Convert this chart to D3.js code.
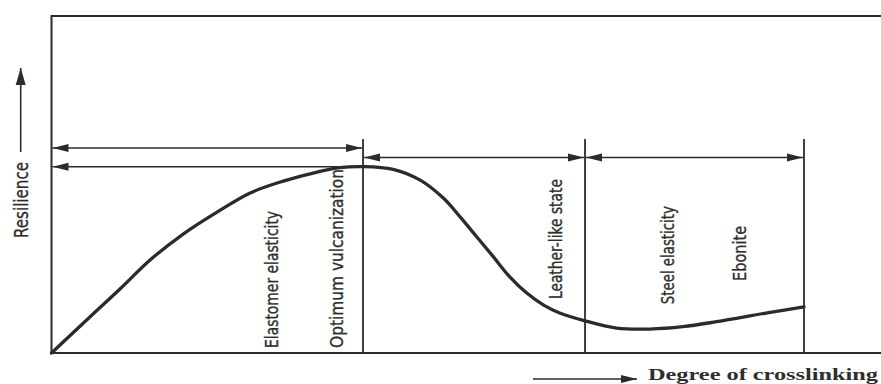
<!DOCTYPE html>
<html lang="en">
<head>
<meta charset="UTF-8">
<title>Resilience vs degree of crosslinking</title>
<script src="https://cdn.jsdelivr.net/npm/d3@7"></script>
<style>
    body { margin: 0; background: #fff; }
    text { fill: #2e2e2e; }
</style>
</head>
<body>
<div id="chart"></div>
<script>
// curve (degree of crosslinking 0..100 -> resilience 0..100)
var crosslink = [0, 5.1, 9.1, 13.1, 17.5, 22, 26.4, 30.8, 35.3, 38.3, 41.4, 45.4, 49, 52.1, 54.3, 56.5, 58.7, 60.9, 63.2, 65.4, 67.6, 70.8, 75.1, 79.5, 83.9, 88.4, 95.1, 100];
var resilience = [0, 10.7, 19, 27.6, 35.3, 41.8, 47.5, 51, 53.7, 55, 55.3, 54.5, 51.3, 45.9, 40.4, 34.5, 28.6, 22.6, 17.7, 14.2, 11.8, 9.6, 7.4, 7.1, 7.8, 9.3, 11.9, 13.7];

// zone boundaries (optimum, leather-like end, ebonite end)
var boundaries = [41.4, 70.9, 100];
var boundaryTop = 63.5;

// range arrows: from, to, level, heads
var spanFrom = [0, 0, 41.4, 70.9];
var spanTo = [41.4, 41.4, 70.9, 100];
var spanLevel = [60.8, 55.3, 58, 58];
var spanBoth = [true, false, true, true];

// rotated zone labels
var zoneLabels = ["Elastomer elasticity", "Optimum vulcanization", "Leather-like state", "Steel elasticity", "Ebonite"];
var zoneLabelX = [29.3, 37.9, 67, 81.9, 91.4];
var zoneLabelBase = [1.5, 1.5, 16, 14.5, 21.4];
var zoneLabelLen = [137, 179, 120, 98, 55];

var width = 881, height = 384;
var ink = "#2b2b2b";

var x = d3.scaleLinear().domain([0, 100]).range([51.5, 804]);
var y = d3.scaleLinear().domain([0, 100]).range([353, 16]);

var svg = d3.select("#chart").append("svg")
    .attr("width", width)
    .attr("height", height);

var defs = svg.append("defs");
defs.append("marker")
    .attr("id", "head")
    .attr("markerUnits", "userSpaceOnUse")
    .attr("markerWidth", 17).attr("markerHeight", 10)
    .attr("viewBox", "0 -5 17 10")
    .attr("refX", 16).attr("refY", 0)
    .attr("orient", "auto-start-reverse")
    .append("path")
    .attr("d", "M0,-4L16,0L0,4Z")
    .attr("fill", ink);
defs.append("marker")
    .attr("id", "bighead")
    .attr("markerUnits", "userSpaceOnUse")
    .attr("markerWidth", 18).attr("markerHeight", 12)
    .attr("viewBox", "0 -6 18 12")
    .attr("refX", 17).attr("refY", 0)
    .attr("orient", "auto")
    .append("path")
    .attr("d", "M0,-5L17,0L0,5Z")
    .attr("fill", ink);

// frame: left axis, top and bottom lines running off the right edge
svg.append("path")
    .attr("d", "M" + width + "," + y(100) + "H" + x(0) + "V" + y(0) + "H" + width)
    .attr("fill", "none")
    .attr("stroke", ink)
    .attr("stroke-width", 2);

// zone boundary lines
svg.selectAll(".bound")
    .data(boundaries)
    .enter()
    .append("line")
    .attr("class", "bound")
    .attr("x1", function(d) { return x(d); })
    .attr("x2", function(d) { return x(d); })
    .attr("y1", y(boundaryTop))
    .attr("y2", y(0))
    .attr("stroke", ink)
    .attr("stroke-width", 1.8);

// range arrows
svg.selectAll(".span")
    .data(spanFrom)
    .enter()
    .append("line")
    .attr("class", "span")
    .attr("x1", function(d, i) { return x(spanTo[i]) - 1; })
    .attr("x2", function(d) { return x(d) + 1; })
    .attr("y1", function(d, i) { return y(spanLevel[i]); })
    .attr("y2", function(d, i) { return y(spanLevel[i]); })
    .attr("stroke", ink)
    .attr("stroke-width", 1.5)
    .attr("marker-end", "url(#head)")
    .attr("marker-start", function(d, i) { return spanBoth[i] ? "url(#head)" : null; });

// the curve
var line = d3.line()
    .x(function(d) { return x(d[0]); })
    .y(function(d) { return y(d[1]); })
    .curve(d3.curveCatmullRom.alpha(0.5));

svg.append("path")
    .datum(d3.zip(crosslink, resilience))
    .attr("d", line)
    .attr("fill", "none")
    .attr("stroke", ink)
    .attr("stroke-width", 3.3)
    .attr("stroke-linecap", "round");

// zone labels, written bottom to top
svg.selectAll(".zone")
    .data(zoneLabels)
    .enter()
    .append("text")
    .attr("class", "zone")
    .attr("transform", function(d, i) {
        return "translate(" + x(zoneLabelX[i]) + "," + y(zoneLabelBase[i]) + ") rotate(-90)";
    })
    .attr("dominant-baseline", "central")
    .attr("font-family", "'DejaVu Sans', sans-serif")
    .attr("font-size", 18)
    .attr("stroke", "#2e2e2e")
    .attr("stroke-width", 0.35)
    .attr("textLength", function(d, i) { return zoneLabelLen[i]; })
    .attr("lengthAdjust", "spacingAndGlyphs")
    .text(function(d) { return d; });

// y axis title with its arrow
svg.append("text")
    .attr("transform", "translate(20.5,238) rotate(-90)")
    .attr("dominant-baseline", "central")
    .attr("font-family", "'DejaVu Sans', sans-serif")
    .attr("font-size", 19)
    .attr("stroke", "#2e2e2e")
    .attr("stroke-width", 0.35)
    .attr("textLength", 76)
    .attr("lengthAdjust", "spacingAndGlyphs")
    .text("Resilience");
svg.append("line")
    .attr("x1", 20.7).attr("x2", 20.7)
    .attr("y1", 152).attr("y2", 68)
    .attr("stroke", ink)
    .attr("stroke-width", 1.6)
    .attr("marker-end", "url(#bighead)");

// x axis title with its arrow
svg.append("line")
    .attr("x1", 533).attr("x2", 637)
    .attr("y1", 379).attr("y2", 379)
    .attr("stroke", ink)
    .attr("stroke-width", 1.5)
    .attr("marker-end", "url(#head)");
svg.append("text")
    .attr("x", 648)
    .attr("y", 380)
    .attr("font-family", "'Liberation Serif', serif")
    .attr("font-weight", "bold")
    .attr("font-size", 17.5)
    .attr("textLength", 230)
    .attr("lengthAdjust", "spacingAndGlyphs")
    .text("Degree of crosslinking");
</script>
</body>
</html>
